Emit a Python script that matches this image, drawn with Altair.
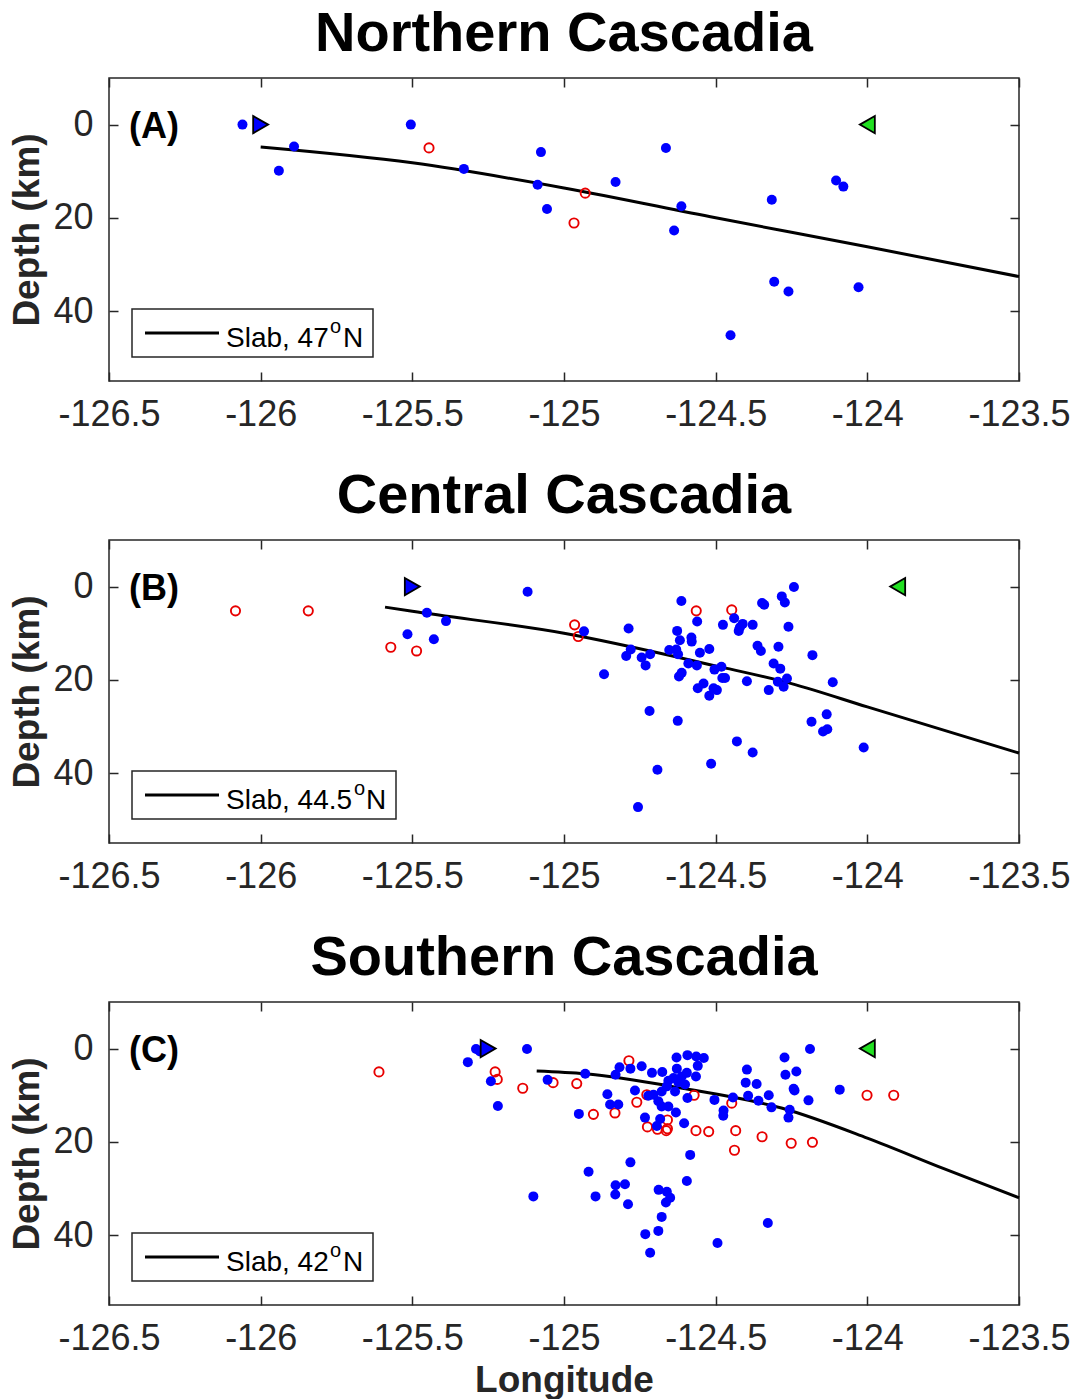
import altair as alt
import pandas as pd

FONT = "Liberation Sans"
AX = "#262626"

TITLES = ["Northern Cascadia", "Central Cascadia", "Southern Cascadia"]
LABELS = ["(A)", "(B)", "(C)"]
SLAB_LAT = ["47", "44.5", "42"]
X_TICKS = [-126.5, -126, -125.5, -125, -124.5, -124, -123.5]
Y_TICKS = [0, 20, 40]

# ---------------- Panel A: Northern Cascadia ----------------
A_BLUE_LON = [-126.06, -125.89, -125.94, -125.505, -125.33, -125.076, -125.087, -125.056,
              -124.83, -124.664, -124.613, -124.637, -124.451, -124.315, -124.307, -124.26,
              -124.103, -124.079, -124.029]
A_BLUE_DEP = [0.0, 4.7, 9.9, 0.0, 9.5, 5.9, 12.9, 18.1,
              12.3, 5.0, 17.5, 22.7, 45.2, 16.1, 33.7, 35.8,
              12.0, 13.3, 34.9]
A_RED_LON = [-125.445, -124.93, -124.967]
A_RED_DEP = [5.0, 14.7, 21.1]
A_SLAB_LON = [-126.0, -125.5, -125.0, -124.5, -124.0, -123.5]
A_SLAB_DEP = [4.8, 8.2, 13.6, 20.0, 26.2, 32.6]
A_STA_W = [-126.0, 0.0]
A_STA_E = [-124.0, 0.0]

# ---------------- Panel B: Central Cascadia ----------------
B_BLUE_LON = [-125.452, -125.389, -125.516, -125.429, -125.12, -124.934,
              -124.868, -124.787, -124.780, -124.795, -124.744, -124.716, -124.731, -124.718,
              -124.625, -124.692, -124.756, -124.613, -124.561, -124.627, -124.618, -124.580,
              -124.579, -124.653, -124.630, -124.624, -124.552, -124.521, -124.590, -124.562,
              -124.612, -124.621, -124.540, -124.559, -124.507, -124.496, -124.521, -124.504,
              -124.481, -124.478, -124.469, -124.476, -124.439, -124.411, -124.424, -124.420,
              -124.378, -124.397, -124.430, -124.378, -124.515, -124.347, -124.340, -124.282,
              -124.272, -124.242, -124.260, -124.362, -124.351, -124.293, -124.309, -124.287,
              -124.295, -124.276, -124.265, -124.325, -124.181, -124.114, -124.134, -124.184,
              -124.146, -124.132, -124.012]
B_BLUE_DEP = [5.6, 7.4, 10.2, 11.3, 1.1, 9.6,
              18.8, 9.0, 13.5, 14.9, 15.2, 14.5, 16.9, 26.7,
              28.8, 39.3, 47.3, 3.1, 7.5, 9.5, 11.5, 10.9,
              11.8, 13.6, 13.5, 14.5, 14.2, 13.4, 16.5, 16.9,
              18.5, 19.3, 20.8, 21.8, 21.8, 22.2, 23.4, 17.8,
              17.2, 19.6, 19.6, 8.2, 6.8, 8.0, 9.5, 8.7,
              8.2, 20.3, 33.2, 35.6, 38.0, 3.5, 3.9, 2.1,
              3.4, 0.1, 8.6, 12.7, 13.8, 12.9, 16.5, 17.6,
              20.4, 21.5, 19.7, 22.2, 14.7, 20.5, 27.4, 29.0,
              31.1, 30.6, 34.5]
B_RED_LON = [-126.083, -125.843, -125.571, -125.486, -124.965, -124.953, -124.564, -124.447]
B_RED_DEP = [5.2, 5.2, 13.0, 13.8, 8.2, 10.7, 5.2, 5.0]
B_SLAB_LON = [-125.59, -125.5, -125.0, -124.5, -124.25, -124.0, -123.5]
B_SLAB_DEP = [4.4, 5.3, 10.0, 17.0, 20.8, 25.8, 35.7]
B_STA_W = [-125.5, 0.0]
B_STA_E = [-123.9, 0.0]

# ---------------- Panel C: Southern Cascadia ----------------
C_BLUE_LON = [-125.290, -125.277, -125.317, -125.241, -125.218, -125.122, -125.054, -124.930,
              -124.951, -124.919, -125.101, -124.896,
              -124.817, -124.781, -124.830, -124.744, -124.710, -124.676, -124.629, -124.593,
              -124.564, -124.539, -124.559, -124.565, -124.595, -124.628, -124.612, -124.639,
              -124.656, -124.623, -124.601, -124.661, -124.678, -124.634, -124.705, -124.722,
              -124.593, -124.766, -124.857, -124.848, -124.821, -124.689, -124.678, -124.656,
              -124.631, -124.733, -124.683, -124.694, -124.604, -124.504, -124.443, -124.474,
              -124.475, -124.397, -124.401, -124.365, -124.393, -124.359, -124.325, -124.316,
              -124.273, -124.270, -124.234, -124.243, -124.240, -124.256, -124.260, -124.194,
              -124.189, -124.091, -124.584, -124.781, -124.595, -124.830, -124.799, -124.831,
              -124.789, -124.688, -124.661, -124.650, -124.664, -124.678, -124.328, -124.689,
              -124.732, -124.494, -124.716]
C_BLUE_DEP = [0.1, 0.6, 2.9, 7.0, 12.3, 0.1, 6.7, 5.4,
              14.0, 26.4, 31.7, 31.7,
              4.0, 4.3, 5.6, 3.8, 5.2, 5.0, 1.9, 1.4,
              1.7, 2.0, 3.7, 6.0, 5.2, 4.3, 6.0, 6.3,
              6.9, 7.2, 7.7, 8.1, 9.2, 9.2, 9.9, 10.1,
              10.6, 9.0, 9.8, 12.0, 12.0, 11.3, 12.4, 12.4,
              13.7, 14.8, 15.1, 16.6, 16.0, 11.0, 10.5, 13.3,
              14.4, 4.5, 7.3, 7.6, 10.1, 11.2, 10.0, 12.6,
              1.9, 5.6, 4.9, 8.6, 9.0, 13.1, 14.8, 11.1,
              0.1, 8.8, 22.8, 24.4, 28.4, 29.3, 29.1, 31.3,
              33.4, 30.3, 30.7, 32.0, 33.0, 36.1, 37.4, 39.1,
              39.8, 41.7, 43.8]
C_RED_LON = [-125.610, -125.227, -125.220, -125.136, -125.036, -124.958, -124.903, -124.786,
             -124.727, -124.571, -124.760, -124.832, -124.659, -124.725, -124.692, -124.663,
             -124.659, -124.565, -124.523, -124.447, -124.001, -123.913, -124.434, -124.438,
             -124.347, -124.251, -124.181]
C_RED_DEP = [5.0, 5.0, 6.6, 8.5, 7.3, 7.5, 14.1, 2.6,
             9.9, 10.0, 11.5, 13.8, 15.3, 16.8, 17.3, 17.6,
             17.2, 17.6, 17.8, 11.7, 10.0, 10.0, 17.6, 21.8,
             18.9, 20.3, 20.1]
C_SLAB_LON = [-125.09, -124.93, -124.61, -124.28, -124.0, -123.75, -123.5]
C_SLAB_DEP = [4.8, 5.4, 8.5, 12.8, 19.2, 25.7, 32.0]
C_STA_W = [-125.25, 0.0]
C_STA_E = [-124.0, 0.0]

PANELS = [
    (A_BLUE_LON, A_BLUE_DEP, A_RED_LON, A_RED_DEP, A_SLAB_LON, A_SLAB_DEP, A_STA_W, A_STA_E),
    (B_BLUE_LON, B_BLUE_DEP, B_RED_LON, B_RED_DEP, B_SLAB_LON, B_SLAB_DEP, B_STA_W, B_STA_E),
    (C_BLUE_LON, C_BLUE_DEP, C_RED_LON, C_RED_DEP, C_SLAB_LON, C_SLAB_DEP, C_STA_W, C_STA_E),
]

# legend box geometry per panel (pixels inside plot area) - styling only
LEG_RIGHT = [264, 287, 264]
SUP_X = [221, 245, 221]
N_X = [234, 257, 234]

W, H = 910, 303


def panel(i):
    blon, bdep, rlon, rdep, slon, sdep, stw, ste = PANELS[i]
    last = i == 2
    xs = alt.Scale(domain=[-126.5, -123.5], nice=False, zero=False)
    ys = alt.Scale(domain=[-10, 55], reverse=True, nice=False, zero=False)

    tick_common = dict(offset=-9, tickSize=9, tickWidth=1.5, tickColor=AX,
                       domain=False, grid=False)
    xb_kw = dict(orient="bottom", values=X_TICKS, labelExpr="datum.value + ''",
                 labelFont=FONT, labelFontSize=36, labelColor=AX, labelPadding=16,
                 labelFlush=False, **tick_common)
    if last:
        xb_kw.update(title="Longitude", titleFont=FONT, titleFontSize=37,
                     titleFontWeight="bold", titleColor=AX, titlePadding=6)
    else:
        xb_kw.update(title=None)
    yl = alt.Axis(orient="left", values=Y_TICKS, labelFont=FONT, labelFontSize=36,
                  labelColor=AX, labelPadding=16, title="Depth (km)", titleFont=FONT,
                  titleFontSize=37, titleFontWeight="bold", titleColor=AX,
                  titlePadding=6, **tick_common)
    xt = alt.Axis(orient="top", values=X_TICKS, labels=False, title=None, **tick_common)
    yr = alt.Axis(orient="right", values=Y_TICKS, labels=False, title=None, **tick_common)

    blue = pd.DataFrame({"lon": blon, "depth": bdep})
    red = pd.DataFrame({"lon": rlon, "depth": rdep})
    slab = pd.DataFrame({"lon": slon, "depth": sdep})
    stw_df = pd.DataFrame({"lon": [stw[0]], "depth": [stw[1]]})
    ste_df = pd.DataFrame({"lon": [ste[0]], "depth": [ste[1]]})
    one = pd.DataFrame({"k": [0]})

    slab_layer = alt.Chart(slab).mark_line(color="black", strokeWidth=3,
                                           interpolate="monotone").encode(
        x=alt.X("lon:Q", scale=xs, axis=xt),
        y=alt.Y("depth:Q", scale=ys, axis=yr),
        order="lon:Q",
    )
    red_layer = alt.Chart(red).mark_point(shape="circle", filled=False, size=85,
                                          strokeWidth=1.9, color="#e80000", opacity=1).encode(
        x=alt.X("lon:Q", scale=xs, axis=None),
        y=alt.Y("depth:Q", scale=ys, axis=None),
    )
    blue_layer = alt.Chart(blue).mark_circle(size=100, color="#0000ff", opacity=1).encode(
        x=alt.X("lon:Q", scale=xs, axis=alt.Axis(**xb_kw)),
        y=alt.Y("depth:Q", scale=ys, axis=yl),
    )
    w_layer = alt.Chart(stw_df).mark_point(shape="triangle-right", filled=True, size=300,
                                           fill="#0000ff", stroke="black", strokeWidth=1.8,
                                           opacity=1).encode(
        x=alt.X("lon:Q", scale=xs, axis=None),
        y=alt.Y("depth:Q", scale=ys, axis=None),
    )
    e_layer = alt.Chart(ste_df).mark_point(shape="triangle-left", filled=True, size=300,
                                           fill="#22e022", stroke="black", strokeWidth=1.8,
                                           opacity=1).encode(
        x=alt.X("lon:Q", scale=xs, axis=None),
        y=alt.Y("depth:Q", scale=ys, axis=None),
    )
    base = alt.Chart(one)
    leg_box = base.mark_rect(fill="white", stroke=AX, strokeWidth=1.5).encode(
        x=alt.value(23), x2=alt.value(LEG_RIGHT[i]), y=alt.value(231), y2=alt.value(279))
    leg_line = base.mark_rule(color="black", strokeWidth=3).encode(
        x=alt.value(36), x2=alt.value(110), y=alt.value(255))
    leg_txt = base.mark_text(text="Slab, " + SLAB_LAT[i], align="left", baseline="alphabetic",
                             font=FONT, fontSize=28, color="black").encode(
        x=alt.value(117), y=alt.value(268.5))
    leg_sup = base.mark_text(text="o", align="left", baseline="alphabetic",
                             font=FONT, fontSize=20, color="black").encode(
        x=alt.value(SUP_X[i]), y=alt.value(255))
    leg_n = base.mark_text(text="N", align="left", baseline="alphabetic",
                           font=FONT, fontSize=28, color="black").encode(
        x=alt.value(N_X[i]), y=alt.value(268.5))
    lab = base.mark_text(text=LABELS[i], align="left", baseline="alphabetic",
                         font=FONT, fontSize=36, fontWeight="bold", color="black").encode(
        x=alt.value(20), y=alt.value(60))

    layered = alt.layer(
        slab_layer, red_layer, blue_layer, w_layer, e_layer,
        leg_box, leg_line, leg_txt, leg_sup, leg_n, lab,
    ).resolve_axis(x="independent", y="independent").properties(
        width=W, height=H,
        title=alt.TitleParams(TITLES[i], fontSize=56, font=FONT, fontWeight="bold",
                              color="black", anchor="middle", offset=14),
    )
    return layered


chart = alt.vconcat(panel(0), panel(1), panel(2), spacing=34).properties(
    padding={"left": 8, "top": 5, "right": 4, "bottom": 0},
    background="white",
).configure_view(stroke=AX, strokeWidth=1.5)

chart.save("out.html", embed_options={"renderer": "svg", "actions": False})
